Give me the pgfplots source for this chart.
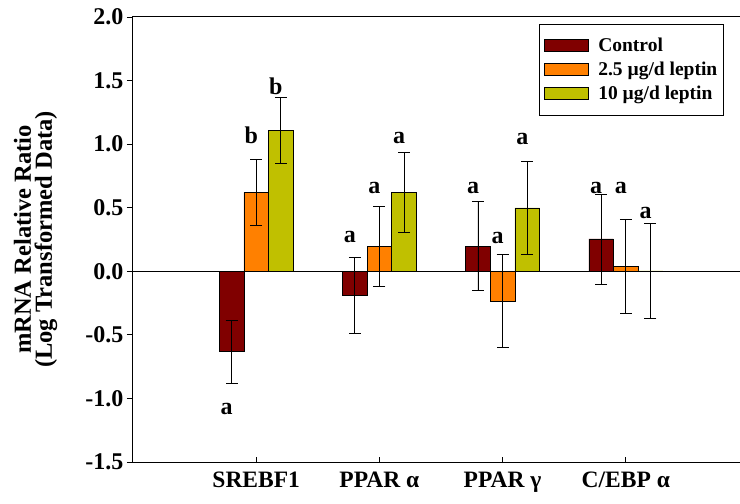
\documentclass[border=0pt]{standalone}
\usepackage{fontspec}
\setmainfont{Liberation Serif}
\usepackage{pgfplots}
\usepackage{pgfplotstable}
\pgfplotsset{compat=1.18}
\definecolor{cctrl}{RGB}{128,0,0}
\definecolor{clow}{RGB}{255,128,0}
\definecolor{chigh}{RGB}{192,192,0}
\pgfplotstableread{
x ctrl ctrlerr low lowerr high higherr
1 -0.633 0.248 0.620 0.258 1.110 0.260
2 -0.190 0.302 0.197 0.313 0.622 0.315
3 0.198 0.350 -0.233 0.367 0.498 0.364
4 0.254 0.354 0.038 0.372 0.003 0.372
}\datatable
\begin{document}
\begin{tikzpicture}
\begin{axis}[
  at={(0pt,0pt)}, anchor=south west,
  scale only axis, width=616pt, height=445pt,
  xmin=0, xmax=5, ymin=-1.5, ymax=2.0,
  axis line style={black, line width=1pt},
  ytick={-1.5,-1,...,2.0},
  xtick={1,2,3,4},
  xticklabels={SREBF1, PPAR α, PPAR γ, C/EBP α},
  tick pos=left,
  tick align=outside,
  major tick length=6pt,
  tick style={black, line width=0.8pt},
  x tick style={yshift=5pt},
  /pgf/number format/assume math mode=true,
  yticklabel={\pgfmathprintnumber[fixed,fixed zerofill,precision=1]{\tick}},
  yticklabel style={font=\fontsize{24}{24}\selectfont\bfseries},
  xticklabel style={font=\fontsize{23.5}{24}\selectfont\bfseries},
  ylabel={mRNA Relative Ratio\\(Log Transformed Data)},
  every axis y label/.style={at={(axis description cs:-0.158,0.5)}, rotate=90, anchor=center, align=center, font=\fontsize{24.5}{21}\selectfont\bfseries},
  ybar, bar width=0.2,
  legend style={at={(0.959,0.985)}, anchor=north east, draw=black, line width=0.8pt,
    font=\fontsize{19.5}{21}\selectfont\bfseries, inner xsep=4pt, inner ysep=12pt,
    row sep=5pt, cells={anchor=west}},
  myleg/.style={legend image code/.code={\draw[##1, line width=0.6pt] (0pt,-6pt) rectangle (44pt,6pt); \path (52pt,0pt);}},
  error bars/y dir=both, error bars/y explicit,
  error bars/error bar style={black, line width=0.8pt},
  error bars/error mark options={black, mark size=6pt, line width=0.8pt, rotate=90},
]
\addplot[fill=cctrl, draw=black, line width=0.6pt, bar shift=-0.2, myleg] table[x=x, y=ctrl, y error=ctrlerr] {\datatable};
\addplot[fill=clow, draw=black, line width=0.6pt, bar shift=0, myleg] table[x=x, y=low, y error=lowerr] {\datatable};
\addplot[fill=chigh, draw=black, line width=0.6pt, bar shift=0.2, myleg] table[x=x, y=high, y error=higherr] {\datatable};
\legend{Control, 2.5 µg/d leptin, 10 µg/d leptin}
\draw[black, line width=0.8pt] (axis cs:0,0) -- (axis cs:5,0);
\tikzset{lt/.style={anchor=base, font=\fontsize{24}{24}\selectfont\bfseries, inner sep=0pt}}
\node[lt] at (axis cs:0.76,-1.13) {a};
\node[lt] at (axis cs:0.96,1.007) {b};
\node[lt] at (axis cs:1.16,1.387) {b};
\node[lt] at (axis cs:1.76,0.225) {a};
\node[lt] at (axis cs:1.96,0.614) {a};
\node[lt] at (axis cs:2.16,1.007) {a};
\node[lt] at (axis cs:2.76,0.608) {a};
\node[lt] at (axis cs:2.96,0.22) {a};
\node[lt] at (axis cs:3.16,1.0) {a};
\node[lt] at (axis cs:3.76,0.608) {a};
\node[lt] at (axis cs:3.96,0.608) {a};
\node[lt] at (axis cs:4.16,0.417) {a};
\end{axis}
\pgfresetboundingbox
\useasboundingbox (-133pt,-42pt) rectangle (607pt,462pt);
\end{tikzpicture}
\end{document}
